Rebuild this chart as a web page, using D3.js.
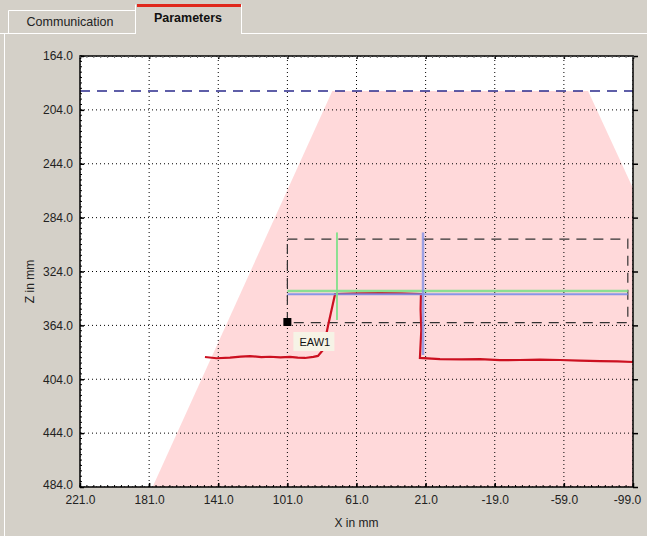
<!DOCTYPE html>
<html>
<head>
<meta charset="utf-8">
<script src="https://cdn.jsdelivr.net/npm/d3@7"></script>
<style>
  body { margin: 0; background: #d4d0c8; }
  svg { display: block; font-family: "Liberation Sans", Arial, sans-serif; }
</style>
</head>
<body>
<svg id="chart"></svg>
<script>
// axis ticks
const xTicks = [221, 181, 141, 101, 61, 21, -19, -59, -99];
const zTicks = [164, 204, 244, 284, 324, 364, 404, 444, 484];

// reach zone (pink trapezoid) [x, z]
const zone = [[75, 190], [-73, 190], [-179, 484], [179, 484]];
// top limit line z
const topLimit = 190;
// search window (dashed box)
const box = { x0: 101, x1: -96, z0: 300, z1: 362 };
// measured profile (red)
const profile = [
  [148.7, 387.5], [142, 388.4], [134.2, 388.0], [128, 387.2], [122.6, 386.8],
  [116, 387.6], [111.1, 387.3], [105, 387.8], [99.5, 387.4], [95, 388.0],
  [90.8, 388.2], [86, 387.4], [83.3, 386.7], [80.4, 382.3], [77.5, 364.5],
  [73.4, 340.7], [60, 340.2], [47.4, 340.0], [35, 340.3], [23.7, 340.7],
  [23.9, 352], [23.5, 367.4], [24.3, 388.2], [12.7, 389.0], [0, 389.2],
  [-10.5, 389.0], [-22, 389.8], [-33.6, 389.7], [-45, 389.4], [-56.8, 389.7],
  [-68, 390.2], [-79.9, 390.5], [-90, 390.8], [-99, 391.2]
];
// edge lines found
const greenH = { z: 338.5, x0: 101, x1: -96 };
const greenV = { x: 72.3, z0: 295, z1: 360 };
const blueH = { z: 340.9, x0: 101, x1: -96 };
const blueV = { x: 22.5, z0: 295, z1: 386 };
// marker
const marker = { x: 101, z: 361.5, label: "EAW1" };

const W = 647, H = 536;
const m = { left: 80, top: 56, right: 14, bottom: 49 };
const w = W - m.left - m.right, h = H - m.top - m.bottom;

const svg = d3.select("#chart").attr("width", W).attr("height", H);

// panel + tabs
svg.append("rect").attr("x", 0).attr("y", 0).attr("width", W).attr("height", H).attr("fill", "#d4d0c8");
svg.append("line").attr("x1", 0).attr("x2", W).attr("y1", 33.5).attr("y2", 33.5).attr("stroke", "#ffffff");
svg.append("line").attr("x1", 4.5).attr("x2", 4.5).attr("y1", 34).attr("y2", H).attr("stroke", "#ffffff");

let tab1 = svg.append("g");
tab1.append("path").attr("d", "M8.5,33 V10.5 H135").attr("fill", "none").attr("stroke", "#ffffff");
tab1.append("text").attr("x", 70).attr("y", 26).attr("text-anchor", "middle")
  .attr("font-size", 12.5).attr("fill", "#222").text("Communication");

let tab2 = svg.append("g");
tab2.append("rect").attr("x", 135).attr("y", 4).attr("width", 107).attr("height", 31).attr("fill", "#d4d0c8");
tab2.append("path").attr("d", "M135.5,34 V4.5 M241.5,4.5 V34").attr("fill", "none").attr("stroke", "#ffffff");
tab2.append("rect").attr("x", 137).attr("y", 4).attr("width", 104).attr("height", 3).attr("fill", "#e0281c");
tab2.append("text").attr("x", 188).attr("y", 22).attr("text-anchor", "middle")
  .attr("font-size", 12.5).attr("font-weight", "bold").attr("fill", "#111").text("Parameters");

const x = d3.scaleLinear().domain([221, -99]).range([0, w]);
const z = d3.scaleLinear().domain([164, 484]).range([0, h]);

const g = svg.append("g").attr("transform", `translate(${m.left},${m.top})`);

g.append("clipPath").attr("id", "clip").append("rect").attr("width", w).attr("height", h);
g.append("rect").attr("width", w).attr("height", h).attr("fill", "#ffffff");

const plot = g.append("g").attr("clip-path", "url(#clip)");

plot.append("path")
  .datum(zone)
  .attr("d", d3.line().x(d => x(d[0])).y(d => z(d[1])).curve(d3.curveLinearClosed))
  .attr("fill", "#ffd9da");

// grid
plot.append("g").selectAll("line").data(xTicks).join("line")
  .attr("x1", d => x(d)).attr("x2", d => x(d)).attr("y1", 0).attr("y2", h)
  .attr("stroke", "#000").attr("stroke-dasharray", "1,3");
plot.append("g").selectAll("line").data(zTicks).join("line")
  .attr("y1", d => z(d)).attr("y2", d => z(d)).attr("x1", 0).attr("x2", w)
  .attr("stroke", "#000").attr("stroke-dasharray", "1,3");

// top limit
plot.append("line").attr("x1", 0).attr("x2", w).attr("y1", z(topLimit)).attr("y2", z(topLimit))
  .attr("stroke", "#2a2a8c").attr("stroke-width", 1.3).attr("stroke-dasharray", "10,7");

// search box
plot.append("rect")
  .attr("x", x(box.x0)).attr("y", z(box.z0))
  .attr("width", x(box.x1) - x(box.x0)).attr("height", z(box.z1) - z(box.z0))
  .attr("fill", "none").attr("stroke", "#333").attr("stroke-width", 1.2).attr("stroke-dasharray", "10,7");

// profile
plot.append("path").datum(profile)
  .attr("d", d3.line().x(d => x(d[0])).y(d => z(d[1])))
  .attr("fill", "none").attr("stroke", "#cc1020").attr("stroke-width", 2.2);

// edge lines
plot.append("line").attr("x1", x(greenH.x0)).attr("x2", x(greenH.x1)).attr("y1", z(greenH.z)).attr("y2", z(greenH.z))
  .attr("stroke", "#7fe08a").attr("stroke-width", 2.5).attr("opacity", 0.9);
plot.append("line").attr("x1", x(blueH.x0)).attr("x2", x(blueH.x1)).attr("y1", z(blueH.z)).attr("y2", z(blueH.z))
  .attr("stroke", "#7d8fe8").attr("stroke-width", 2).attr("opacity", 0.9);
plot.append("line").attr("x1", x(greenV.x)).attr("x2", x(greenV.x)).attr("y1", z(greenV.z0)).attr("y2", z(greenV.z1))
  .attr("stroke", "#7fe08a").attr("stroke-width", 2).attr("opacity", 0.9);
plot.append("line").attr("x1", x(blueV.x)).attr("x2", x(blueV.x)).attr("y1", z(blueV.z0)).attr("y2", z(blueV.z1))
  .attr("stroke", "#7d8fe8").attr("stroke-width", 2.5).attr("opacity", 0.75);

// marker + label
plot.append("rect").attr("x", x(marker.x) - 4).attr("y", z(marker.z) - 4).attr("width", 8).attr("height", 8).attr("fill", "#000");
plot.append("rect").attr("x", x(marker.x) + 6).attr("y", z(marker.z) + 10).attr("width", 41).attr("height", 19)
  .attr("fill", "#f6f3e6");
plot.append("text").attr("x", x(marker.x) + 12).attr("y", z(marker.z) + 24)
  .attr("font-size", 11).attr("fill", "#111").text(marker.label);

// frame + minor ticks
g.append("rect").attr("width", w).attr("height", h).attr("fill", "none").attr("stroke", "#000").attr("stroke-width", 1.5);

const fmt = d => d.toFixed(1);
const xMinor = d3.range(0, 81).map(i => 221 - i * 4);
const zMinor = d3.range(0, 81).map(i => 164 + i * 4);

const axL = g.append("g").call(d3.axisLeft(z).tickValues(zTicks).tickFormat(fmt).tickSize(-4).tickPadding(7));
const axB = g.append("g").attr("transform", `translate(0,${h})`)
  .call(d3.axisBottom(x).tickValues(xTicks).tickFormat(fmt).tickSize(-4).tickPadding(8));
const axR = g.append("g").attr("transform", `translate(${w},0)`)
  .call(d3.axisRight(z).tickValues(zTicks).tickFormat("").tickSize(5));
const axT = g.append("g")
  .call(d3.axisTop(x).tickValues(xTicks).tickFormat("").tickSize(-3));

[axL, axB, axR, axT].forEach(a => {
  a.select(".domain").remove();
  a.selectAll("line").attr("stroke", "#000").attr("stroke-width", 1.5);
  a.selectAll("text").attr("font-size", 12).attr("fill", "#222").attr("font-family", "Liberation Sans, Arial, sans-serif");
});
axB.selectAll(".tick text").filter(d => d === -99).attr("dx", -6);
axL.selectAll(".tick text").filter(d => d === 484).attr("dy", "0.1em");

g.append("g").selectAll("line").data(zMinor).join("line")
  .attr("x1", 0).attr("x2", 2).attr("y1", d => z(d)).attr("y2", d => z(d)).attr("stroke", "#000");
g.append("g").selectAll("line").data(xMinor).join("line")
  .attr("y1", h).attr("y2", h - 2).attr("x1", d => x(d)).attr("x2", d => x(d)).attr("stroke", "#000");
g.append("g").selectAll("line").data(xMinor).join("line")
  .attr("y1", 0).attr("y2", 2).attr("x1", d => x(d)).attr("x2", d => x(d)).attr("stroke", "#666");

// axis titles
svg.append("text").attr("x", m.left + w / 2).attr("y", H - 9).attr("text-anchor", "middle")
  .attr("font-size", 12).attr("fill", "#222").text("X in mm");
svg.append("text").attr("transform", `translate(34,${m.top + z(324) + 10}) rotate(-90)`)
  .attr("text-anchor", "middle").attr("font-size", 12).attr("fill", "#222").text("Z in mm");
</script>
</body>
</html>
